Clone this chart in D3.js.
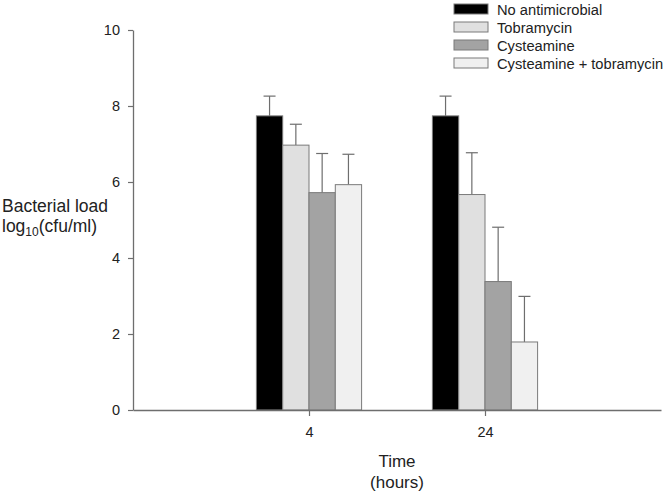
<!DOCTYPE html>
<html><head><meta charset="utf-8">
<script src="https://cdn.jsdelivr.net/npm/d3@7"></script>
<style>body{margin:0;background:#fff}svg{display:block;font-family:"Liberation Sans",Arial,sans-serif}</style>
</head><body><svg id="c" width="665" height="494"></svg>
<script>
const categories = ["4", "24"];
const series = ["No antimicrobial", "Tobramycin", "Cysteamine", "Cysteamine + tobramycin"];
const means = [
  [7.74, 6.97, 5.72, 5.93],
  [7.74, 5.67, 3.38, 1.79]
];
const errors = [
  [0.52, 0.55, 1.03, 0.80],
  [0.52, 1.10, 1.43, 1.20]
];
const colors = ["#000000", "#e0e0e0", "#a3a3a3", "#f0f0f0"];
const yTicks = [0, 2, 4, 6, 8, 10];

const svg = d3.select("#c");
const x = d3.scalePoint().domain(categories).range([133, 661]).padding(1);
const y = d3.scaleLinear().domain([0, 10]).range([410, 30]);
const bw = 26.3;
const xs = d3.scaleBand().domain(series).range([-2 * bw, 2 * bw]).padding(0);
const axisColor = "#6e6e6e";

// bars
categories.forEach((c, ci) => {
  const g = svg.append("g");
  series.forEach((s, si) => {
    const v = means[ci][si], e = errors[ci][si];
    const x0 = x(c) + xs(s);
    const cx = x0 + xs.bandwidth() / 2;
    g.append("line").attr("x1", cx).attr("x2", cx).attr("y1", y(v)).attr("y2", y(v + e))
      .attr("stroke", axisColor).attr("stroke-width", 1.2);
    g.append("line").attr("x1", cx - 6).attr("x2", cx + 6).attr("y1", y(v + e)).attr("y2", y(v + e))
      .attr("stroke", axisColor).attr("stroke-width", 1.2);
    g.append("rect").attr("x", x0).attr("y", y(v)).attr("width", xs.bandwidth()).attr("height", y(0) - y(v))
      .attr("fill", colors[si]).attr("stroke", "#7a7a7a").attr("stroke-width", 1);
  });
});

// y axis
const ya = svg.append("g").attr("transform", "translate(133,0)")
  .call(d3.axisLeft(y).tickValues(yTicks).tickSize(5).tickPadding(8).tickSizeOuter(0));
ya.select(".domain").attr("stroke", axisColor).attr("stroke-width", 1.3);
ya.selectAll(".tick line").attr("stroke", axisColor).attr("stroke-width", 1.2);
ya.selectAll(".tick text").attr("font-size", 14.5).attr("fill", "#222").attr("font-family", "Liberation Sans, Arial, sans-serif");

// x axis
const xa = svg.append("g").attr("transform", "translate(0,410)")
  .call(d3.axisBottom(x).tickSize(6).tickPadding(11).tickSizeOuter(0));
xa.select(".domain").attr("stroke", axisColor).attr("stroke-width", 1.3);
xa.selectAll(".tick line").attr("stroke", axisColor).attr("stroke-width", 1.2);
xa.selectAll(".tick text").attr("font-size", 14.5).attr("fill", "#222").attr("font-family", "Liberation Sans, Arial, sans-serif");

// axis titles
svg.append("text").attr("x", 397).attr("y", 467).attr("text-anchor", "middle").attr("font-size", 17).attr("fill", "#222").text("Time");
svg.append("text").attr("x", 397).attr("y", 488).attr("text-anchor", "middle").attr("font-size", 17).attr("fill", "#222").text("(hours)");
svg.append("text").attr("x", 2).attr("y", 212).attr("font-size", 17.5).attr("fill", "#222").text("Bacterial load");
const t2 = svg.append("text").attr("x", 2).attr("y", 232).attr("font-size", 17.5).attr("fill", "#222");
t2.append("tspan").text("log");
t2.append("tspan").attr("font-size", 12).attr("dy", 4).text("10");
t2.append("tspan").attr("dy", -4).text("(cfu/ml)");

// legend
const lg = svg.append("g").attr("transform", "translate(454,4)");
series.forEach((s, i) => {
  const r = lg.append("g").attr("transform", `translate(0,${i * 18})`);
  r.append("rect").attr("width", 34).attr("height", 10).attr("fill", colors[i]).attr("stroke", "#7a7a7a").attr("stroke-width", 1);
  r.append("text").attr("x", 43).attr("y", 10.5).attr("font-size", 14.7).attr("fill", "#222").text(s);
});
</script></body></html>
